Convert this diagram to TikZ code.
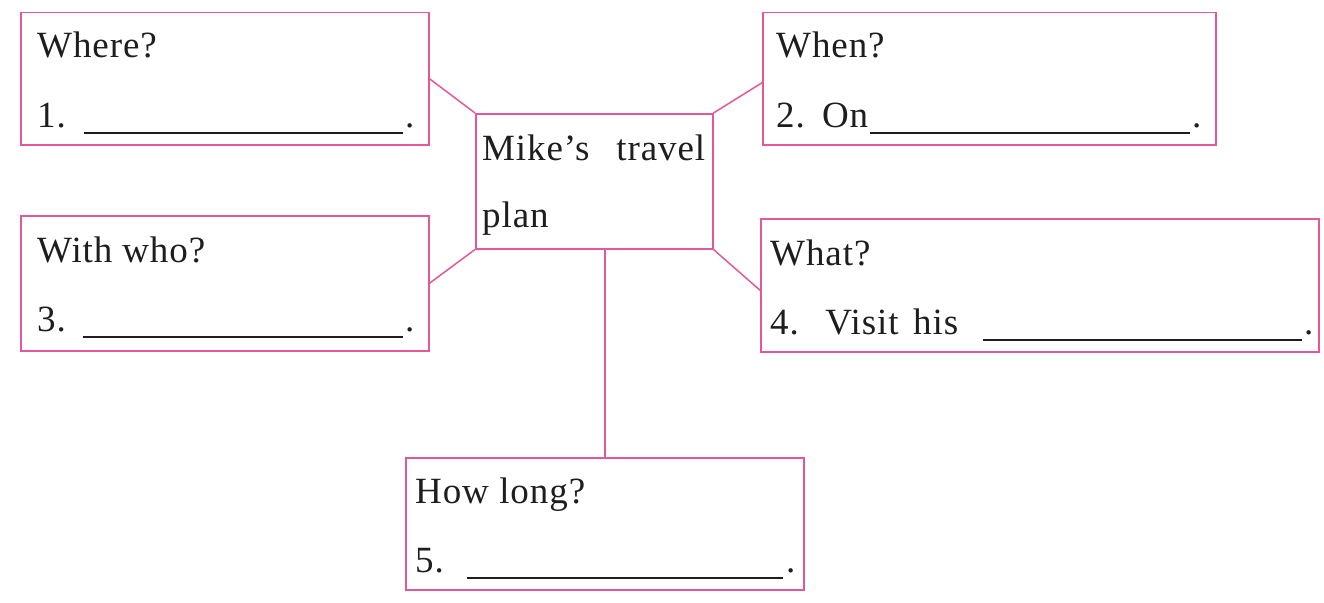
\documentclass[tikz,border=0pt]{standalone}
\usepackage{fontspec}
\setmainfont[LetterSpace=2.5]{Liberation Serif}
\definecolor{pinkline}{RGB}{226,88,152}
\definecolor{inkc}{RGB}{30,30,30}
\begin{document}
\begin{tikzpicture}[x=1pt,y=-1pt,
  box/.style={draw=pinkline, line width=1.5pt, anchor=north west, inner sep=0pt},
  link/.style={draw=pinkline, line width=1.5pt},
  txt/.style={anchor=base west, inner sep=0pt, font=\fontsize{37}{42}\selectfont, text=inkc},
  blank/.style={draw=inkc, line width=1.1pt}]
\useasboundingbox[fill=white] (0,0) rectangle (1324,602);
% boxes
\node[box, minimum width=408pt, minimum height=132pt] (where) at (20,12) {};
\node[box, minimum width=453pt, minimum height=132pt] (when) at (762,12) {};
\node[box, minimum width=237pt, minimum height=135pt] (center) at (475,113) {};
\node[box, minimum width=408pt, minimum height=135pt] (withwho) at (20,215) {};
\node[box, minimum width=558pt, minimum height=133pt] (what) at (760,218) {};
\node[box, minimum width=398pt, minimum height=132pt] (howlong) at (405,457) {};
% connectors
\draw[link] (where.east) -- (center.north west);
\draw[link] (center.north east) -- ([yshift=-4pt]when.west);
\draw[link] (center.south west) -- (withwho.east);
\draw[link] (center.south east) -- ([yshift=-5pt]what.west);
\draw[link] (howlong.north) -- (howlong.north |- center.south);
% center text
\node[txt] (c1) at (482,160) {\makebox[223pt][s]{Mike’s travel}};
\node[txt] (c2) at (482,227) {plan};
% where
\node[txt] (q1) at (37,58) {Where?};
\node[txt] (n1) at (37,127) {1.};
\draw[blank] (84,133) -- (403,133);
\node[txt] (d1) at (405,127) {.};
% when
\node[txt] (q2) at (776,58) {When?};
\node[txt] (n2) at (776,127) {\makebox[92pt][s]{2. On}};
\draw[blank] (870,133) -- (1190,133);
\node[txt] (d2) at (1192,127) {.};
% with who
\node[txt] (q3) at (37,262) {\makebox[168pt][s]{With who?}};
\node[txt] (n3) at (37,331) {3.};
\draw[blank] (83,337) -- (403,337);
\node[txt] (d3) at (405,331) {.};
% what
\node[txt] (q4) at (770,265) {What?};
\node[txt] (n4) at (770,334) {\makebox[188pt][s]{4. Visit his}};
\draw[blank] (983,340) -- (1302,340);
\node[txt] (d4) at (1304,334) {.};
% how long
\node[txt] (q5) at (415,503) {\makebox[170pt][s]{How long?}};
\node[txt] (n5) at (415,572) {5.};
\draw[blank] (467,578) -- (783,578);
\node[txt] (d5) at (786,572) {.};
\end{tikzpicture}
\end{document}
